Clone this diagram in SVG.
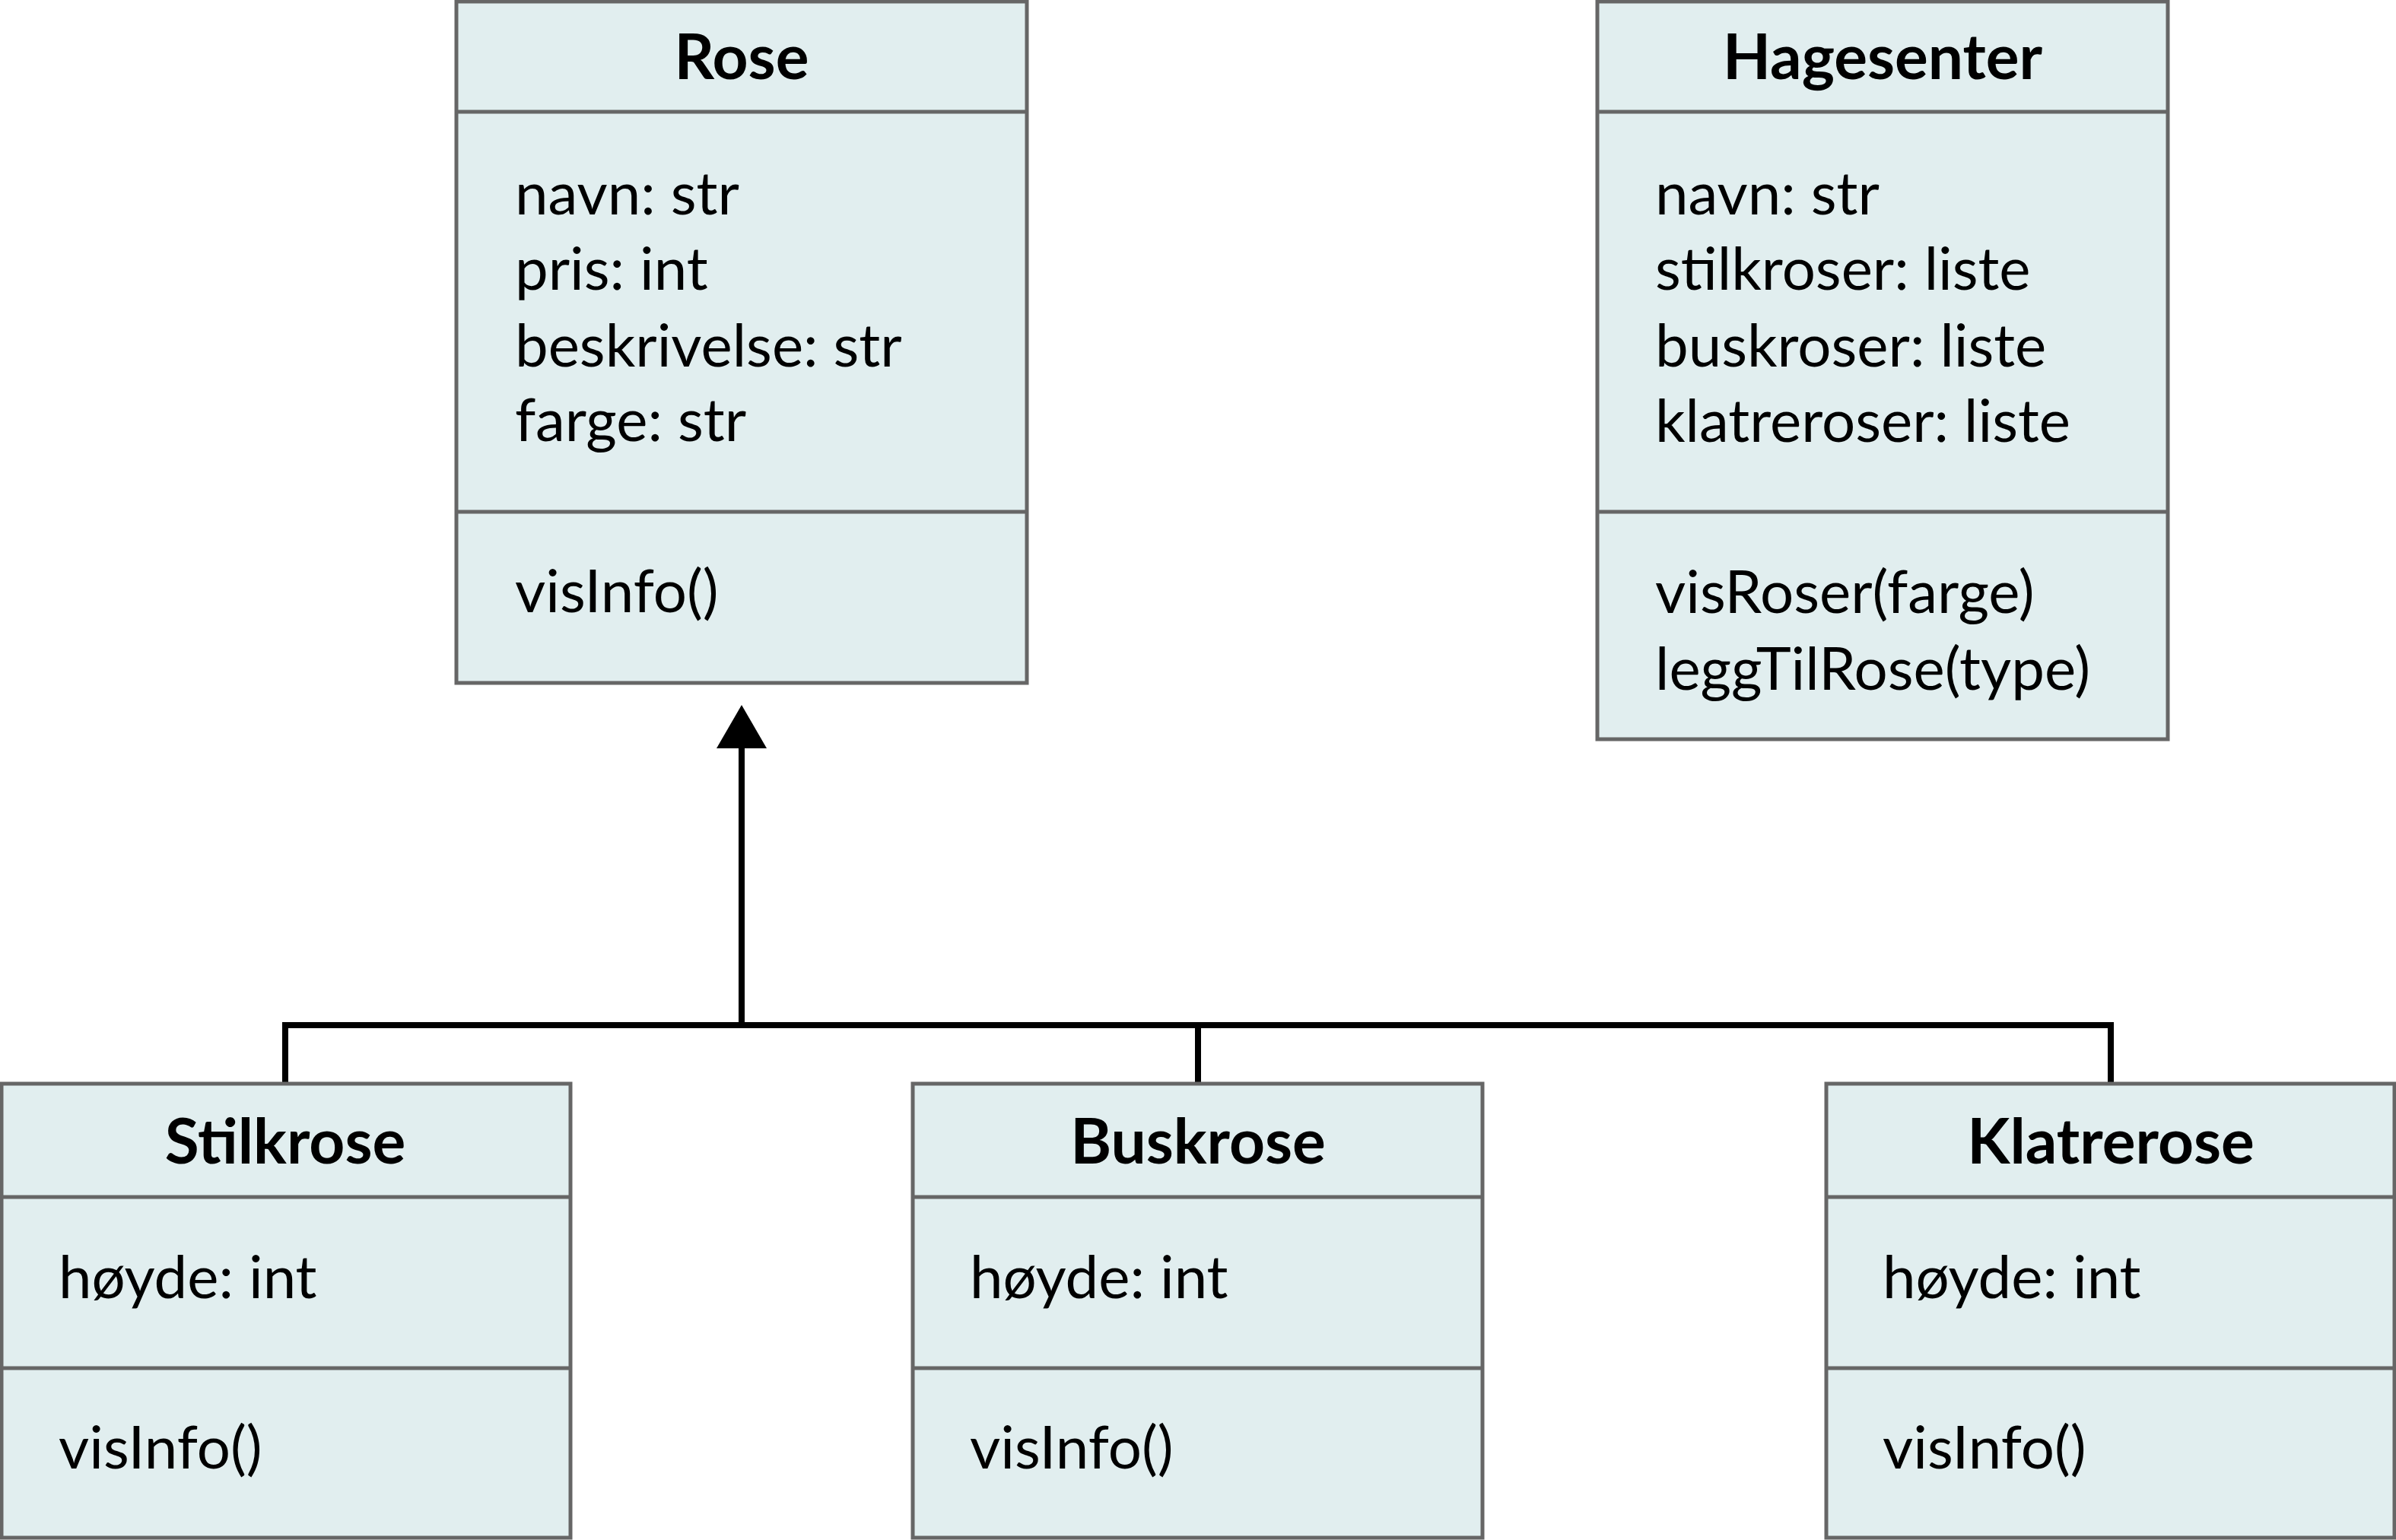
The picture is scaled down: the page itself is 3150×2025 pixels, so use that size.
<svg xmlns="http://www.w3.org/2000/svg" width="3150" height="2025" viewBox="0 0 3150 2025">
<style>
.box{fill:#e1eeef;stroke:#666666;stroke-width:5}
.div{stroke:#666666;stroke-width:5}
.t{font-family:Lato,"Noto Sans",sans-serif;font-size:78px;fill:#000}
.h{font-family:Lato,"Noto Sans",sans-serif;font-size:82px;font-weight:700;fill:#000;text-anchor:middle}
.c{fill:none;stroke:#000;stroke-width:8}
</style>
<rect width="3150" height="2025" fill="#ffffff"/>
<g id="connectors">
<polyline class="c" points="375,1425 375,1348 2775,1348 2775,1425"/>
<line class="c" x1="1575" y1="1348" x2="1575" y2="1425"/>
<line class="c" x1="975" y1="1348" x2="975" y2="980"/>
<polygon points="975,927 942,984 1008,984" fill="#000"/>
</g>
<g id="rose">
<rect class="box" x="600" y="2" width="750" height="896"/>
<line class="div" x1="600" y1="147" x2="1350" y2="147"/>
<line class="div" x1="600" y1="673" x2="1350" y2="673"/>
<text class="h" x="975" y="104">Rose</text>
<text class="t" x="677" y="282">navn: str</text>
<text class="t" x="677" y="381">pris: int</text>
<text class="t" x="677" y="482">beskrivelse: str</text>
<text class="t" x="677" y="580">farge: str</text>
<text class="t" x="677" y="805">visInfo()</text>
</g>
<g id="hagesenter">
<rect class="box" x="2100" y="2" width="750" height="970"/>
<line class="div" x1="2100" y1="147" x2="2850" y2="147"/>
<line class="div" x1="2100" y1="673" x2="2850" y2="673"/>
<text class="h" x="2475" y="104">Hagesenter</text>
<text class="t" x="2176" y="282">navn: str</text>
<text class="t" x="2176" y="381">stilkroser: liste</text>
<text class="t" x="2176" y="482">buskroser: liste</text>
<text class="t" x="2176" y="581">klatreroser: liste</text>
<text class="t" x="2176" y="806">visRoser(farge)</text>
<text class="t" x="2176" y="907">leggTilRose(type)</text>
</g>
<g id="stilkrose">
<rect class="box" x="2" y="1425" width="748" height="597"/>
<line class="div" x1="2" y1="1574" x2="750" y2="1574"/>
<line class="div" x1="2" y1="1799" x2="750" y2="1799"/>
<text class="h" x="375" y="1530">Stilkrose</text>
<text class="t" x="77" y="1707">høyde: int</text>
<text class="t" x="77" y="1931">visInfo()</text>
</g>
<g id="buskrose">
<rect class="box" x="1200" y="1425" width="749" height="597"/>
<line class="div" x1="1200" y1="1574" x2="1949" y2="1574"/>
<line class="div" x1="1200" y1="1799" x2="1949" y2="1799"/>
<text class="h" x="1575" y="1530">Buskrose</text>
<text class="t" x="1275" y="1707">høyde: int</text>
<text class="t" x="1275" y="1931">visInfo()</text>
</g>
<g id="klatrerose">
<rect class="box" x="2401" y="1425" width="747" height="597"/>
<line class="div" x1="2401" y1="1574" x2="3148" y2="1574"/>
<line class="div" x1="2401" y1="1799" x2="3148" y2="1799"/>
<text class="h" x="2775" y="1530">Klatrerose</text>
<text class="t" x="2475" y="1707">høyde: int</text>
<text class="t" x="2475" y="1931">visInfo()</text>
</g>
</svg>
